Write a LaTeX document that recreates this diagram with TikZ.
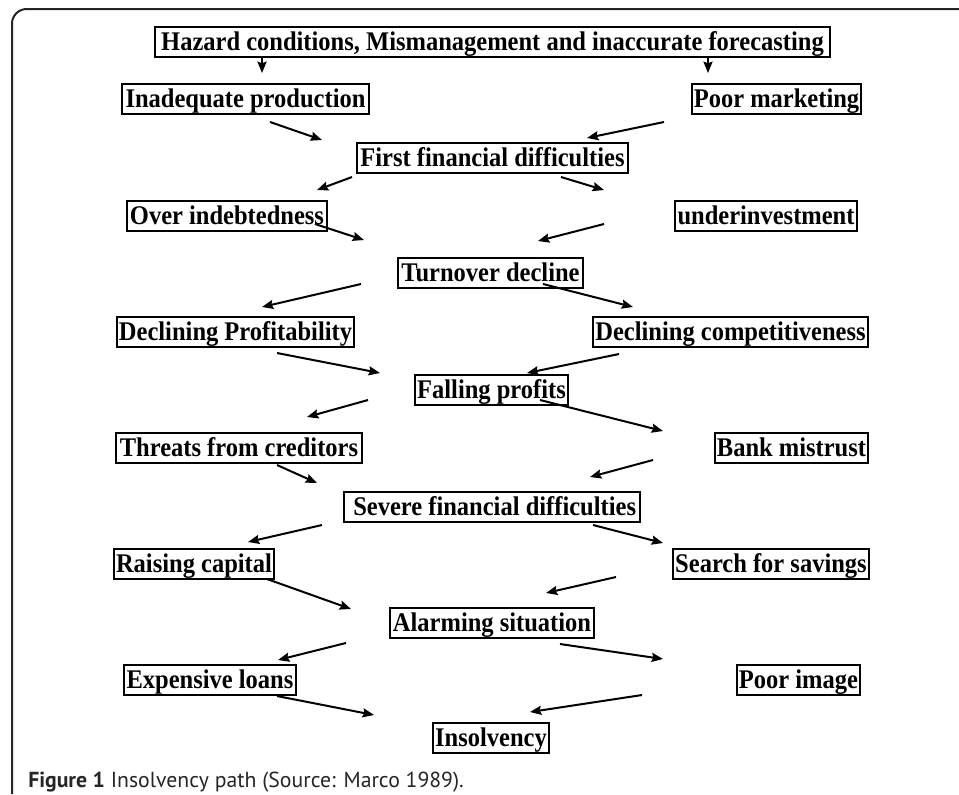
\documentclass[tikz,border=0pt]{standalone}
\usepackage{fontspec}
\setmainfont{Liberation Serif}[FakeStretch=0.91]
\newfontfamily\capfont{PT Sans}
\usetikzlibrary{arrows.meta}
\begin{document}
\begin{tikzpicture}[x=0.75pt,y=-0.75pt,
  fbox/.style={draw, line width=1.5pt, inner xsep=1.5pt, inner ysep=0pt,
    text height=17.8pt, text depth=4.7pt,
    font=\fontsize{20.2pt}{22pt}\selectfont\bfseries},
  arr/.style={line width=1.5pt, -{Stealth[length=8.5pt,width=6.8pt,inset=1.2pt]}}]
\useasboundingbox[fill=white] (0,0) rectangle (959,794);
\draw[line width=1.5pt, draw=black!85, rounded corners=11pt] (12,794) -- (12,9) -- (959,9);

\node[fbox, minimum width=506.25pt] (haz) at (492.5,42) {Hazard conditions, Mismanagement and inaccurate forecasting};
\node[fbox, minimum width=185.25pt] (inad) at (245.5,99) {Inadequate production};
\node[fbox, minimum width=126.75pt] (pmk) at (776.5,99) {Poor marketing};
\node[fbox, minimum width=203.25pt] (ffd) at (492.5,158) {First financial difficulties};
\node[fbox, minimum width=150pt] (over) at (227,216) {Over indebtedness};
\node[fbox, minimum width=136.5pt] (under) at (766,216) {underinvestment};
\node[fbox, minimum width=138.75pt] (turn) at (490.5,273) {Turnover decline};
\node[fbox, minimum width=177.75pt] (dprof) at (235.5,332) {Declining Profitability};
\node[fbox, minimum width=206.25pt] (dcomp) at (730.5,332) {Declining competitiveness};
\node[fbox, minimum width=114.75pt] (fall) at (491.5,389.5) {Falling profits};
\node[fbox, minimum width=184.5pt] (threat) at (239,447.5) {Threats from creditors};
\node[fbox, minimum width=114.75pt] (bank) at (791.5,447.5) {Bank mistrust};
\node[fbox, minimum width=222pt] (severe) at (492,507) {\hspace*{4pt}Severe financial difficulties};
\node[fbox, minimum width=120pt] (raise) at (194,563.5) {Raising capital};
\node[fbox, minimum width=147pt] (search) at (771,563.5) {Search for savings};
\node[fbox, minimum width=153pt] (alarm) at (492,622.5) {Alarming situation};
\node[fbox, minimum width=129pt] (exp) at (210,680) {Expensive loans};
\node[fbox, minimum width=92.25pt] (pimg) at (798.5,680) {Poor image};
\node[fbox, minimum width=87pt] (insol) at (491,737.5) {Insolvency};

\node[anchor=base west, inner sep=0pt, text=black!85,
  font=\capfont\fontsize{16.3pt}{19pt}\selectfont] (cap) at (28,787)
  {\textbf{Figure 1} Insolvency path (Source: Marco 1989).};

% arrow end points
\coordinate (s1) at (262,57);   \coordinate (e1) at (262,73);
\coordinate (s2) at (708,57);   \coordinate (e2) at (708,73);
\coordinate (s3) at (270,122);  \coordinate (e3) at (322,140);
\coordinate (s4) at (664,122);  \coordinate (e4) at (587,138);
\coordinate (s5) at (352,177);  \coordinate (e5) at (317,190);
\coordinate (s6) at (561,177);  \coordinate (e6) at (604,190);
\coordinate (s7) at (315,224);  \coordinate (e7) at (364,240);
\coordinate (s8) at (604,224);  \coordinate (e8) at (538,241);
\coordinate (s9) at (361,284);  \coordinate (e9) at (262,307);
\coordinate (s10) at (543,284); \coordinate (e10) at (633,307);
\coordinate (s11) at (277,353); \coordinate (e11) at (380,373);
\coordinate (s12) at (619,354); \coordinate (e12) at (527,373);
\coordinate (s13) at (368,400); \coordinate (e13) at (307,417);
\coordinate (s14) at (540,400); \coordinate (e14) at (663,431);
\coordinate (s15) at (277,465); \coordinate (e15) at (317,483);
\coordinate (s16) at (653,460); \coordinate (e16) at (590,477);
\coordinate (s17) at (322,525); \coordinate (e17) at (248,542);
\coordinate (s18) at (593,525); \coordinate (e18) at (663,543);
\coordinate (s19) at (267,579); \coordinate (e19) at (351,609);
\coordinate (s20) at (616,577); \coordinate (e20) at (546,593);
\coordinate (s21) at (346,643); \coordinate (e21) at (278,660);
\coordinate (s22) at (560,644); \coordinate (e22) at (663,659);
\coordinate (s23) at (277,696); \coordinate (e23) at (374,715);
\coordinate (s24) at (642,695); \coordinate (e24) at (530,712);

\foreach \i in {1,...,24} { \draw[arr] (s\i) -- (e\i); }
\end{tikzpicture}
\end{document}
